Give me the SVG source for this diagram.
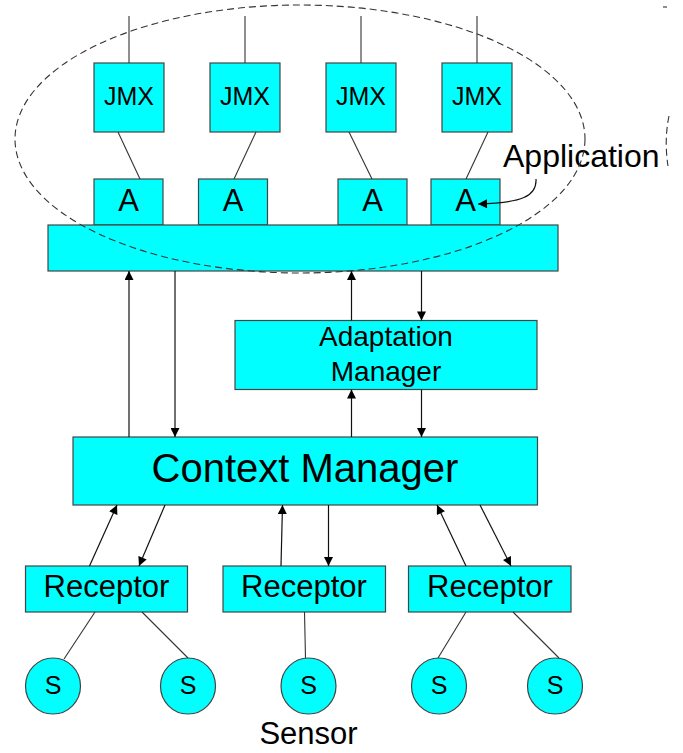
<svg xmlns="http://www.w3.org/2000/svg" width="683" height="753" viewBox="0 0 683 753">
<style>
.box{fill:#00FFFF;stroke:#444;stroke-width:1.2}
.t{font-family:"Liberation Sans",Arial,sans-serif;fill:#000;text-anchor:middle}
.ln{stroke:#333;stroke-width:1.1;fill:none}
.ar{stroke:#111;stroke-width:1.2;fill:none;marker-end:url(#ah)}
.dash{stroke:#333;stroke-width:1.1;fill:none;stroke-dasharray:7 4}
</style>
<defs>
<marker id="ah" viewBox="0 0 10 10" refX="10" refY="5" markerWidth="10" markerHeight="9" markerUnits="userSpaceOnUse" orient="auto">
<path d="M0,0 L10,5 L0,10 z" fill="#000"/>
</marker>
</defs>
<rect width="683" height="753" fill="#fff"/>
<g id="jmx1"><rect class="box" x="94" y="63" width="70" height="69"/><text class="t" x="129" y="105" font-size="25">JMX</text></g>
<g id="jmx2"><rect class="box" x="210" y="63" width="70" height="69"/><text class="t" x="245" y="105" font-size="25">JMX</text></g>
<g id="jmx3"><rect class="box" x="326" y="63" width="70" height="69"/><text class="t" x="361" y="105" font-size="25">JMX</text></g>
<g id="jmx4"><rect class="box" x="442" y="63" width="70" height="69"/><text class="t" x="477" y="105" font-size="25">JMX</text></g>
<g id="a1"><rect class="box" x="94" y="179" width="69" height="46"/><text class="t" x="128.5" y="211" font-size="31">A</text></g>
<g id="a2"><rect class="box" x="198.5" y="179" width="69" height="46"/><text class="t" x="233" y="211" font-size="31">A</text></g>
<g id="a3"><rect class="box" x="338" y="179" width="69" height="46"/><text class="t" x="372.5" y="211" font-size="31">A</text></g>
<g id="a4"><rect class="box" x="431" y="179" width="69" height="46"/><text class="t" x="465.5" y="211" font-size="31">A</text></g>
<g id="bar"><rect class="box" x="48" y="225" width="510" height="46"/></g>
<g id="adaptation"><rect class="box" x="235" y="320.5" width="302" height="69"/><text class="t" x="386" y="346" font-size="28">Adaptation</text><text class="t" x="386" y="381" font-size="28">Manager</text></g>
<g id="context"><rect class="box" x="73" y="437" width="464.5" height="68"/><text class="t" x="305" y="482" font-size="40">Context Manager</text></g>
<g id="r1"><rect class="box" x="25.5" y="566" width="162" height="46"/><text class="t" x="106.5" y="597" font-size="31">Receptor</text></g>
<g id="r2"><rect class="box" x="223" y="566" width="162.5" height="46"/><text class="t" x="304" y="597" font-size="31">Receptor</text></g>
<g id="r3"><rect class="box" x="408.5" y="566" width="162.5" height="46"/><text class="t" x="490" y="597" font-size="31">Receptor</text></g>
<g id="s1"><ellipse class="box" cx="53" cy="686" rx="27.5" ry="28"/><text class="t" x="53" y="694" font-size="25">S</text></g>
<g id="s2"><ellipse class="box" cx="188" cy="686" rx="27.5" ry="28"/><text class="t" x="188" y="694" font-size="25">S</text></g>
<g id="s3"><ellipse class="box" cx="308.5" cy="686" rx="27.5" ry="28"/><text class="t" x="308.5" y="694" font-size="25">S</text></g>
<g id="s4"><ellipse class="box" cx="439" cy="686" rx="27.5" ry="28"/><text class="t" x="439" y="694" font-size="25">S</text></g>
<g id="s5"><ellipse class="box" cx="555" cy="686" rx="27.5" ry="28"/><text class="t" x="555" y="694" font-size="25">S</text></g>
<g id="labels">
<text class="t" x="308.5" y="744" font-size="31">Sensor</text>
<text class="t" x="503" y="167" font-size="32" style="text-anchor:start">Application</text>
</g>
<g id="connectors">
<line class="ln" x1="129" y1="16" x2="129" y2="63"/>
<line class="ln" x1="245" y1="16" x2="245" y2="63"/>
<line class="ln" x1="361" y1="16" x2="361" y2="63"/>
<line class="ln" x1="477" y1="16" x2="477" y2="63"/>
<line class="ln" x1="118" y1="132" x2="140" y2="179"/>
<line class="ln" x1="256" y1="132" x2="234" y2="179"/>
<line class="ln" x1="349" y1="132" x2="372" y2="179"/>
<line class="ln" x1="488" y1="132" x2="466" y2="179"/>
<line class="ar" x1="129" y1="437" x2="129" y2="271"/>
<line class="ar" x1="175" y1="271" x2="175" y2="437"/>
<line class="ar" x1="351.5" y1="320.5" x2="351.5" y2="271"/>
<line class="ar" x1="421.5" y1="271" x2="421.5" y2="320.5"/>
<line class="ar" x1="351.5" y1="437" x2="351.5" y2="389.5"/>
<line class="ar" x1="421.5" y1="389.5" x2="421.5" y2="437"/>
<line class="ar" x1="89.5" y1="566" x2="117" y2="505"/>
<line class="ar" x1="165" y1="505" x2="139" y2="566"/>
<line class="ar" x1="281" y1="566" x2="282.5" y2="505"/>
<line class="ar" x1="328.5" y1="505" x2="328.5" y2="566"/>
<line class="ar" x1="466" y1="566" x2="437" y2="505"/>
<line class="ar" x1="480" y1="505" x2="511" y2="566"/>
<line class="ln" x1="95" y1="612" x2="64" y2="659"/>
<line class="ln" x1="142" y1="612" x2="188" y2="658"/>
<line class="ln" x1="304.5" y1="612" x2="305.5" y2="658"/>
<line class="ln" x1="466" y1="612" x2="438" y2="658"/>
<line class="ln" x1="513" y1="612" x2="559" y2="658"/>
<path class="ar" d="M536,179 C537,196 522,203 478,204" stroke-width="1.1"/>
<ellipse class="dash" cx="300" cy="139" rx="285" ry="134"/>
<path class="dash" d="M669,116 Q664,140 668,166"/>
<line class="ln" x1="663" y1="7" x2="667" y2="7"/>
</g>
</svg>
